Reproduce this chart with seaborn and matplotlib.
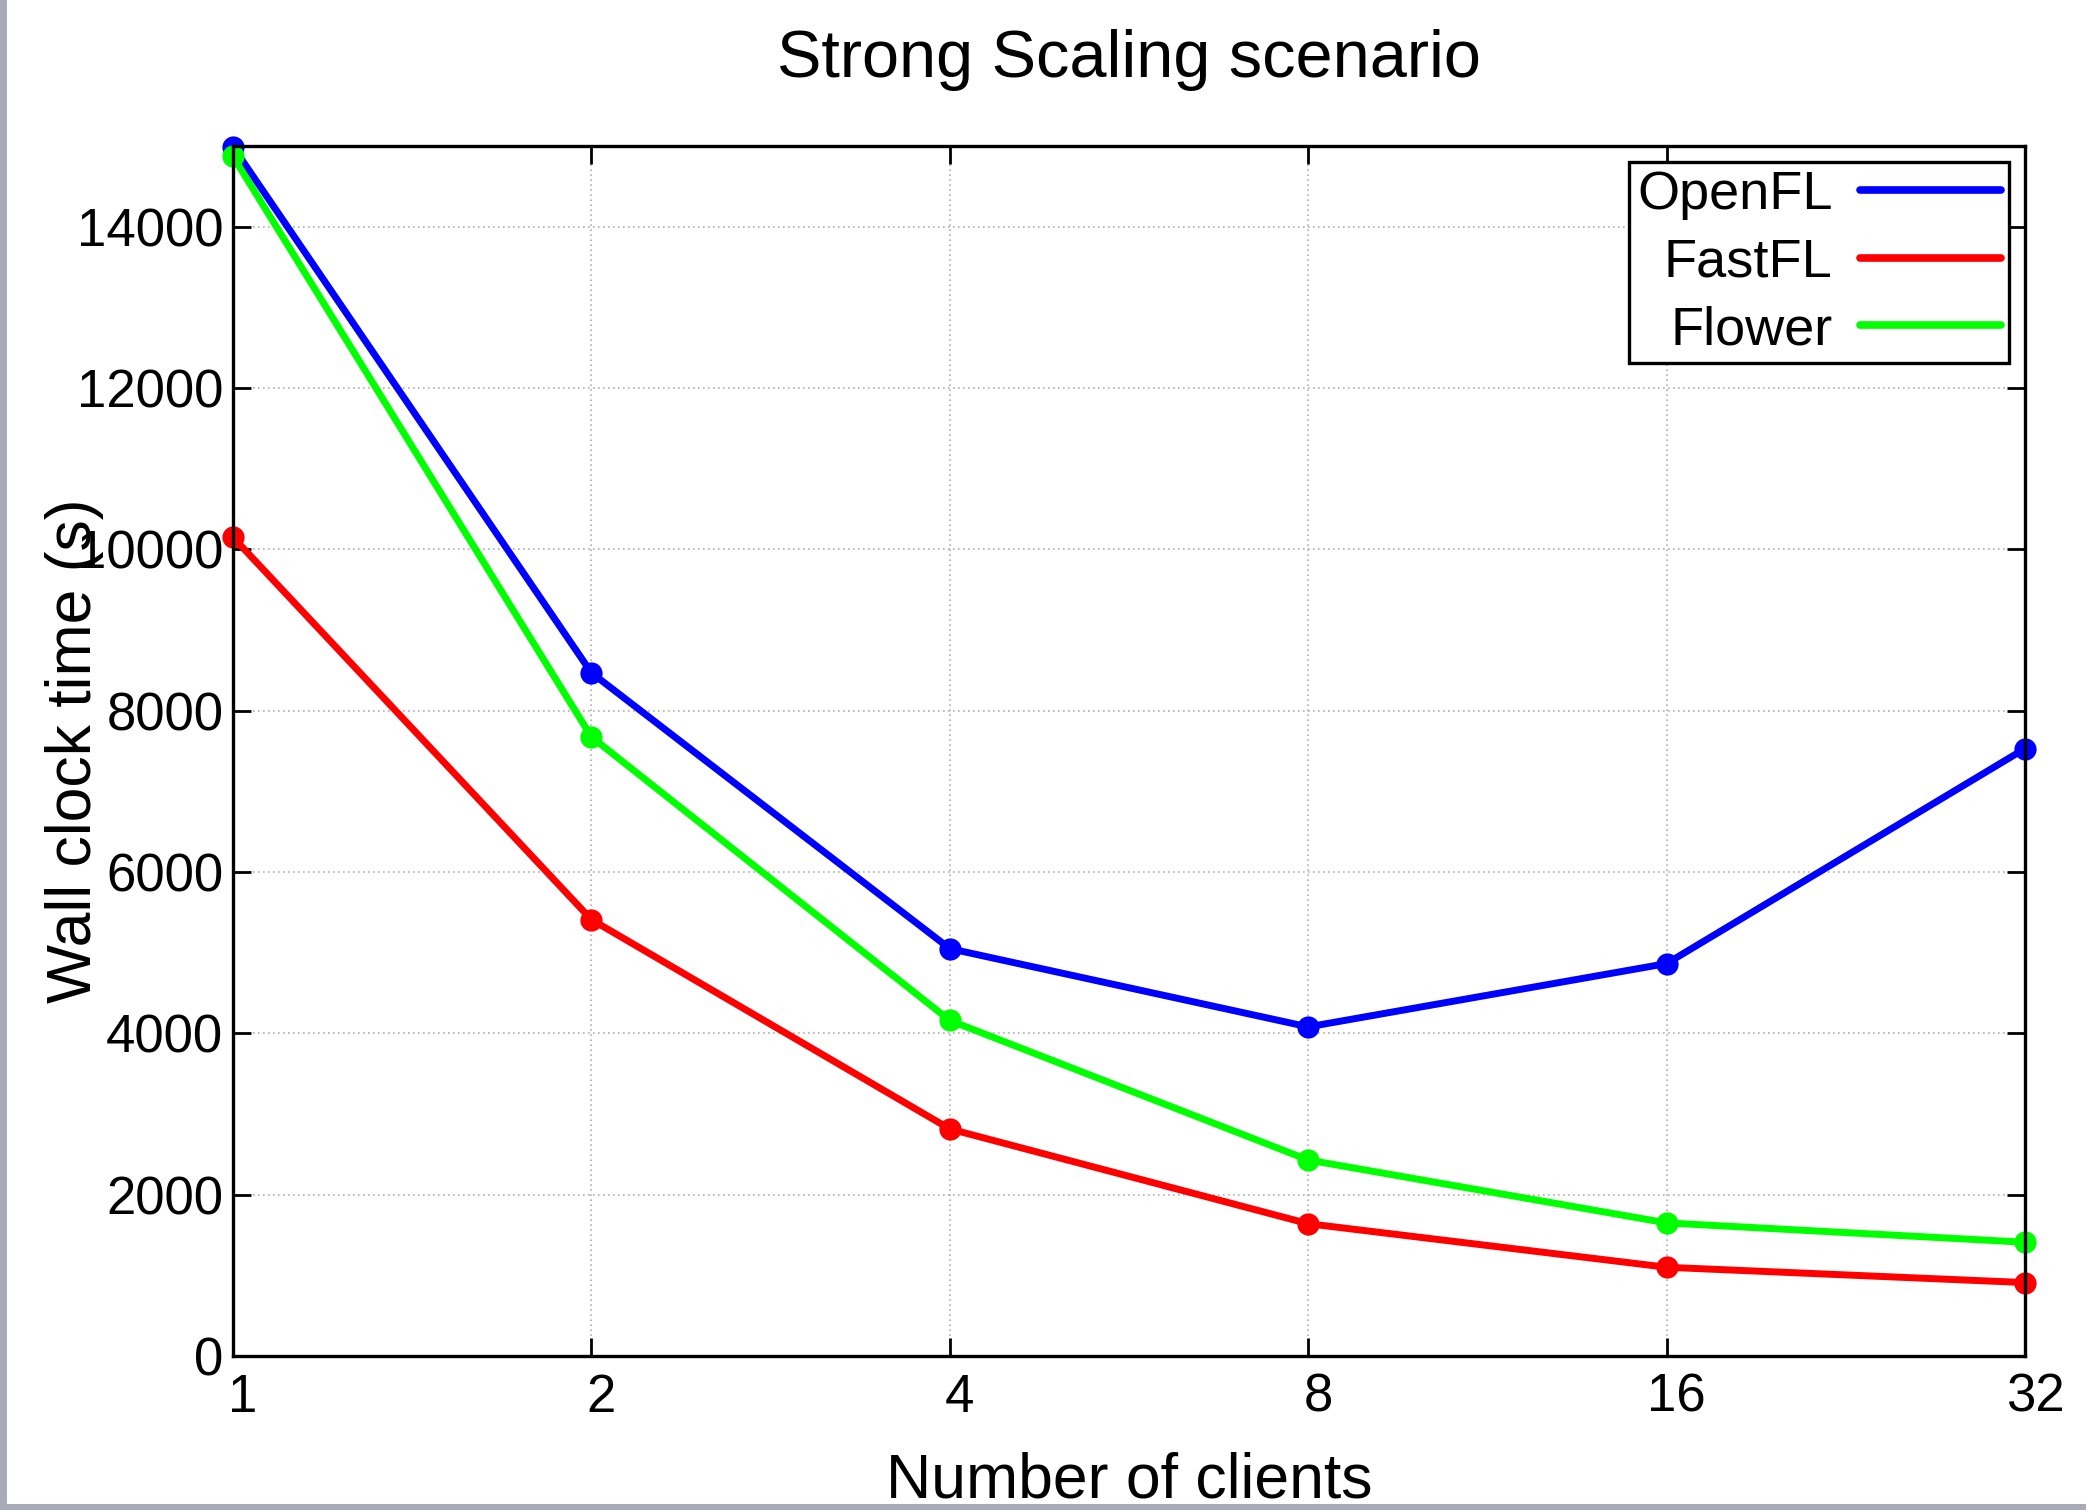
import numpy as np
import pandas as pd
import seaborn as sns
import matplotlib
matplotlib.use("Agg")
import matplotlib.pyplot as plt
from matplotlib.patches import Rectangle
import matplotlib.transforms as mtransforms

# ---- data ----
clients = [1, 2, 4, 8, 16, 32]
openfl = [14990, 8470, 5050, 4080, 4865, 7530]
fastfl = [10150, 5410, 2815, 1640, 1100, 910]
flower = [14870, 7675, 4160, 2430, 1650, 1410]
series_names = ["OpenFL", "FastFL", "Flower"]
series_colors = ["#0000ff", "#ff0000", "#00ff00"]
yticks = [0, 2000, 4000, 6000, 8000, 10000, 12000, 14000]
xtick_labels = ["1", "2", "4", "8", "16", "32"]

df = pd.DataFrame({
    "clients": clients * 3,
    "time": openfl + fastfl + flower,
    "framework": [n for n in series_names for _ in clients],
})

sns.set_theme(style="white")
plt.rcParams["font.family"] = ["Liberation Sans", "DejaVu Sans"]
plt.rcParams["text.color"] = "black"
plt.rcParams["axes.labelcolor"] = "black"
plt.rcParams["xtick.color"] = "black"
plt.rcParams["ytick.color"] = "black"

fig = plt.figure(figsize=(20.86, 15.10), dpi=100)
ax = fig.add_axes([233 / 2086, 1 - 1356 / 1510, (2025 - 233) / 2086, (1356 - 146) / 1510])

sns.lineplot(data=df, x="clients", y="time", hue="framework",
             hue_order=series_names, palette=series_colors,
             marker="o", linewidth=5, markersize=16, markeredgewidth=0,
             ax=ax, legend=True)

for ln in ax.lines:
    ln.set_linewidth(5)
    ln.set_markersize(16)
    ln.set_markeredgewidth(0)
    ln.set_clip_on(False)

ax.set_xscale("log", base=2)
ax.set_xlim(1, 32)
ax.set_ylim(0, 15000)
ax.set_xticks(clients)
ax.set_xticklabels(xtick_labels)
ax.minorticks_off()
ax.set_yticks(yticks)
ax.set_yticklabels([str(v) for v in yticks])

ax.tick_params(axis="both", which="major", direction="in", length=13, width=2,
               colors="black", labelsize=38, top=True, right=True,
               bottom=True, left=True)
ax.tick_params(axis="x", pad=12)
ax.tick_params(axis="y", pad=7)
for lab in ax.get_xticklabels():
    lab.set_transform(lab.get_transform() + mtransforms.ScaledTranslation(10 / 100, 0, fig.dpi_scale_trans))

ax.grid(True, which="major", color="#b0b0b0", linestyle=(0, (1, 2)), linewidth=1.2)
for s in ax.spines.values():
    s.set_color("black")
    s.set_linewidth(2.4)
    s.set_visible(True)

ax.set_title("Strong Scaling scenario", fontsize=48, pad=50, color="black")
ax.set_xlabel("Number of clients", fontsize=45)
ax.set_ylabel("Wall clock time (s)", fontsize=45)
ax.xaxis.set_label_coords(0.5, -0.079)
ax.yaxis.set_label_coords(-0.072, 0.5)

leg = ax.legend(loc="upper right", markerfirst=False, fontsize=39,
                frameon=True, fancybox=False, edgecolor="black",
                framealpha=1, handlelength=2.6, handletextpad=0.5,
                labelspacing=0.32, borderaxespad=0.3, borderpad=0.15)
leg.get_frame().set_linewidth(2.4)
for h in leg.get_lines():
    h.set_marker("")
    h.set_linewidth(5.5)
    h.set_solid_capstyle("round")

# screenshot frame
fig.patches.append(Rectangle((0, 0), 7 / 2086, 1, transform=fig.transFigure,
                             facecolor="#a9abb8", edgecolor="none", zorder=10))
fig.patches.append(Rectangle((0, 0), 1, 6 / 1510, transform=fig.transFigure,
                             facecolor="#a9abb8", edgecolor="none", zorder=10))

fig.savefig("out.png", dpi=100)
